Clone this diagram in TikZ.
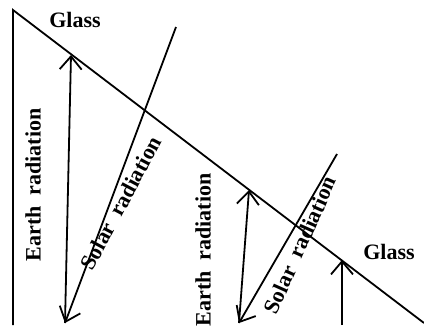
\documentclass[tikz,border=0pt]{standalone}
\usepackage{fontspec}
\setmainfont{Liberation Serif}
\usetikzlibrary{arrows.meta}
\begin{document}
\begin{tikzpicture}[x=1pt,y=-1pt,
  ln/.style={line width=1.8pt},
  arr/.style={ln,-{Straight Barb[length=13pt,width=22pt,line width=1.8pt]}},
  lbl/.style={font=\fontsize{22}{26}\selectfont\bfseries,inner sep=0pt}]
\useasboundingbox (0,0) rectangle (424,325);
\coordinate (wallTop) at (13,10);
\coordinate (wallBot) at (13,325);
\coordinate (glassEnd) at (424,323);
\coordinate (e1top) at (71,55);
\coordinate (e1bot) at (65,323);
\coordinate (s1top) at (176,27);
\coordinate (e2top) at (249,190);
\coordinate (e2bot) at (239,323);
\coordinate (s2top) at (337,154);
\coordinate (e3top) at (342,260);
\coordinate (e3bot) at (342,325);
\draw[ln] (wallBot) -- (wallTop) -- (glassEnd);
\draw[arr] (e1bot) -- (e1top);
\draw[arr] (s1top) -- (e1bot);
\draw[arr] (e2bot) -- (e2top);
\draw[arr] (s2top) -- (e2bot);
\draw[arr] (e3bot) -- (e3top);
\node[lbl] (g1) at (75,20) {Glass};
\node[lbl] (g2) at (389,252) {Glass};
\node[lbl,rotate=90] (er1) at (33,185) {Earth\hspace{0.5em}radiation};
\node[lbl,rotate=90] (er2) at (203,250) {Earth\hspace{0.5em}radiation};
\node[lbl,rotate=62] (sr1) at (121,203) {Solar\hspace{0.5em}radiation};
\node[lbl,rotate=66] (sr2) at (300,245) {Solar\hspace{0.5em}radiation};
\end{tikzpicture}
\end{document}
